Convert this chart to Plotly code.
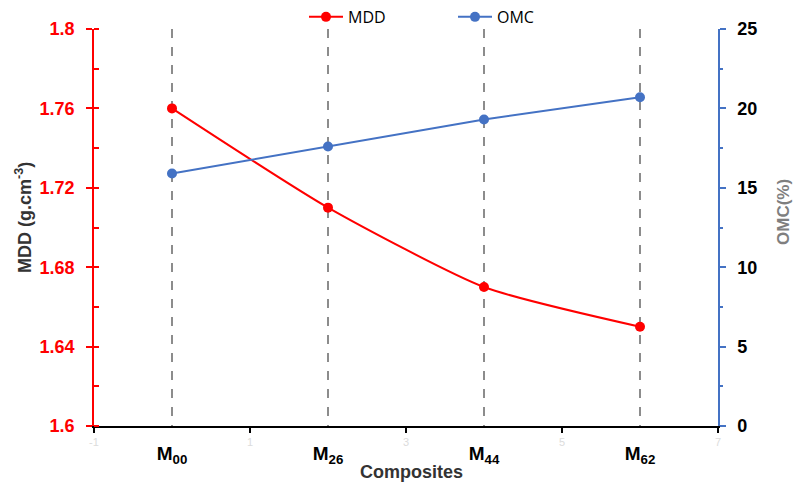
import plotly.graph_objects as go

categories = ["M<sub>00</sub>", "M<sub>26</sub>", "M<sub>44</sub>", "M<sub>62</sub>"]
cat_pos = [0, 2, 4, 6]
mdd = [1.76, 1.71, 1.67, 1.65]
omc = [15.9, 17.6, 19.3, 20.7]
num_ticks = [-1, 1, 3, 5, 7]
y1_ticks = [1.6, 1.64, 1.68, 1.72, 1.76, 1.8]
y1_text = ["1.6", "1.64", "1.68", "1.72", "1.76", "1.8"]
y2_ticks = [0, 5, 10, 15, 20, 25]

RED = "#FF0000"
BLUE = "#4472C4"
FONT = "Liberation Sans"
W, H = 800, 484
L, R, T, B = 94, 82, 29, 58

fig = go.Figure()
# invisible helper trace so the category x-axis is drawn
fig.add_trace(go.Scatter(
    x=cat_pos, y=mdd, mode="none", showlegend=False, hoverinfo="skip",
    xaxis="x2", yaxis="y"))
fig.add_trace(go.Scatter(
    x=cat_pos, y=mdd, name="MDD", mode="lines+markers",
    line=dict(color=RED, width=2, shape="spline", smoothing=0.6),
    marker=dict(color=RED, size=10), xaxis="x", yaxis="y"))
fig.add_trace(go.Scatter(
    x=cat_pos, y=omc, name="OMC", mode="lines+markers",
    line=dict(color=BLUE, width=2),
    marker=dict(color=BLUE, size=10), xaxis="x", yaxis="y2"))

def px_x(px):
    return (px - L) / (W - L - R)

def px_y(py):
    return (H - B - py) / (H - T - B)

fig.update_layout(
    width=W, height=H,
    margin=dict(l=L, r=R, t=T, b=B, autoexpand=False),
    plot_bgcolor="white", paper_bgcolor="white",
    showlegend=True,
    legend=dict(orientation="h", x=px_x(304), xanchor="left",
                yref="container", y=0.965, yanchor="middle",
                font=dict(family="Open Sans", size=16, color="black"),
                itemwidth=34, entrywidth=100, bgcolor="rgba(0,0,0,0)"),
    xaxis=dict(
        range=[-1, 7], tickvals=num_ticks, ticktext=[str(v) for v in num_ticks],
        tickfont=dict(family=FONT, size=11, color="#dcdcdc"),
        showgrid=False, zeroline=False, showline=True, linecolor="black", linewidth=1.5,
        ticks="outside", ticklen=5, tickcolor="black", tickwidth=1.5,
    ),
    xaxis2=dict(
        range=[-1, 7], overlaying="x", anchor="y", side="bottom",
        tickvals=cat_pos, ticktext=categories,
        tickfont=dict(family=FONT, size=19, color="black", weight="bold"),
        ticklabelstandoff=14,
        showgrid=True, gridcolor="#8c8c8c", griddash="dash", gridwidth=1.5,
        zeroline=False, showline=False, ticks="",
    ),
    yaxis=dict(
        range=[1.6, 1.8], tickvals=y1_ticks, ticktext=y1_text,
        tickfont=dict(family=FONT, size=18, color=RED, weight="bold"),
        ticklabelstandoff=8,
        showgrid=False, zeroline=False, showline=True, linecolor=RED, linewidth=1.5,
        ticks="outside", ticklen=6, tickcolor=RED, tickwidth=1.5,
        minor=dict(dtick=0.02, tick0=1.6, ticks="inside", ticklen=5, tickcolor=RED, showgrid=False),
    ),
    yaxis2=dict(
        range=[0, 25], tickvals=y2_ticks, overlaying="y", side="right", anchor="x",
        tickfont=dict(family=FONT, size=18, color="black", weight="bold"),
        ticklabelstandoff=8,
        showgrid=False, zeroline=False, showline=True, linecolor=BLUE, linewidth=1.5,
        ticks="outside", ticklen=6, tickcolor=BLUE, tickwidth=1.5,
        minor=dict(dtick=2.5, tick0=0, ticks="outside", ticklen=3, tickcolor=BLUE, showgrid=False),
    ),
    annotations=[
        dict(text="Composites", xref="paper", yref="paper", x=px_x(411), y=px_y(472),
             xanchor="center", yanchor="middle", showarrow=False,
             font=dict(family=FONT, size=18, color="#333333", weight="bold")),
        dict(text="MDD (g.cm<sup>-3</sup>)", xref="paper", yref="paper", x=px_x(23), y=px_y(218),
             xanchor="center", yanchor="middle", showarrow=False, textangle=-90,
             font=dict(family=FONT, size=18, color="#333333", weight="bold")),
        dict(text="OMC(%)", xref="paper", yref="paper", x=px_x(783), y=px_y(212),
             xanchor="center", yanchor="middle", showarrow=False, textangle=-90,
             font=dict(family=FONT, size=17, color="#7f7f7f", weight="bold")),
    ],
)

fig.write_html("out.html")
